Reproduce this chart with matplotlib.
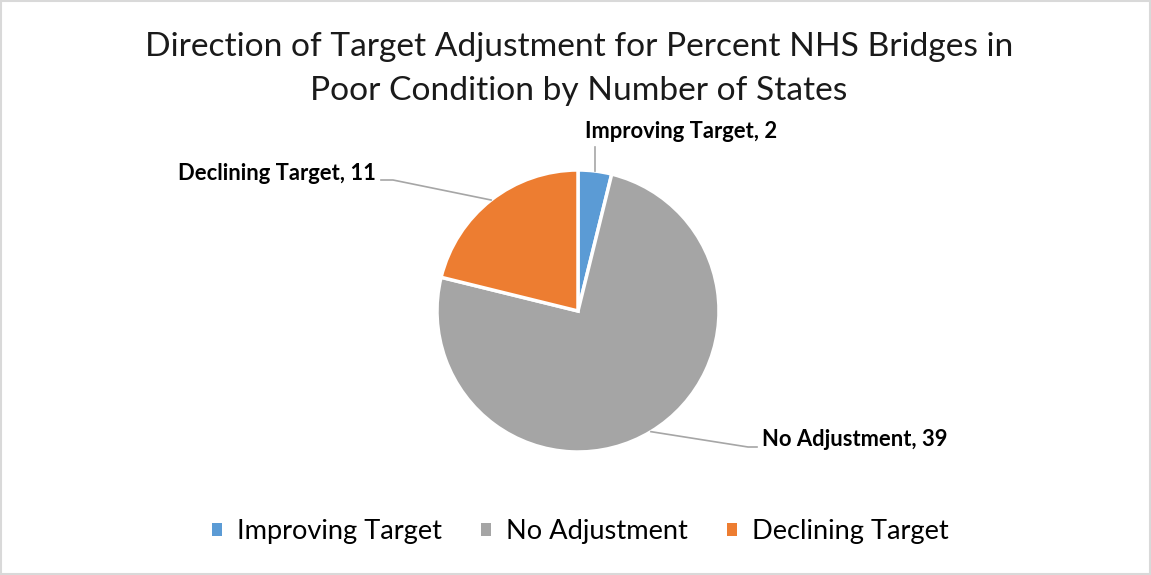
import numpy as np
import matplotlib.pyplot as plt
from matplotlib.patches import Patch, Rectangle
from matplotlib.lines import Line2D

plt.rcParams['font.family'] = ['Lato', 'DejaVu Sans']

# Data
categories = ['Improving Target', 'No Adjustment', 'Declining Target']
counts = [2, 39, 11]
colors = ['#5B9BD5', '#A5A5A5', '#ED7D31']

W, H = 1151, 575
fig = plt.figure(figsize=(W / 100, H / 100), dpi=100)

# square axes holding the pie, centre (578, 311) px, radius 141 px
cx, cy, r = 578, 311, 141
ax = fig.add_axes([(cx - r) / W, (H - cy - r) / H, 2 * r / W, 2 * r / H])
wedges, _ = ax.pie(counts, colors=colors, startangle=90, counterclock=False,
                   wedgeprops=dict(edgecolor='white', linewidth=2.5))
ax.set_xlim(-1, 1)
ax.set_ylim(-1, 1)
ax.set_aspect('auto')
ax.axis('off')

# label positions (figure pixels from top-left): elbow point, text anchor
label_layout = [
    dict(elbow=(595, 147), text=(585, 132), ha='left', tail=False),
    dict(elbow=(748, 447), text=(762, 440), ha='left', tail=True),
    dict(elbow=(393, 180), text=(376, 173), ha='right', tail=True),
]

fig.canvas.draw()
for w, n, name, lay in zip(wedges, counts, categories, label_layout):
    mid = np.deg2rad((w.theta1 + w.theta2) / 2)
    px, py = ax.transData.transform((np.cos(mid), np.sin(mid)))
    ex, ey = lay['elbow']
    ey = H - ey
    tx, ty = lay['text']
    ty = H - ty
    xs, ys = [px, ex], [py, ey]
    if lay['tail']:
        xs.append(tx - 5 if lay['ha'] == 'left' else tx + 5)
        ys.append(ey)
    fig.add_artist(Line2D(xs, ys, transform=None, color='#A6A6A6', lw=1.2))
    fig.text(tx / W, ty / H, f'{name}, {n}', ha=lay['ha'], va='center',
             fontsize=15.8, fontweight='bold', color='black')

fig.text(0.503, (H - 69) / H,
         'Direction of Target Adjustment for Percent NHS Bridges in\nPoor Condition by Number of States',
         ha='center', va='center', fontsize=24.1, color='#1a1a1a', linespacing=1.6)

handles = [Patch(facecolor=c, edgecolor='none') for c in colors]
fig.legend(handles, categories, loc='center', bbox_to_anchor=(0.5043, (H - 532) / H),
           ncol=3, frameon=False, fontsize=19.6, handlelength=0.37, handleheight=0.37,
           handletextpad=0.55, columnspacing=1.43)

fig.add_artist(Rectangle((1 / W, 1 / H), 1 - 2 / W, 1 - 2 / H, transform=fig.transFigure,
                         fill=False, edgecolor='#D9D9D9', lw=1.5))

fig.savefig('out.png', dpi=100)
